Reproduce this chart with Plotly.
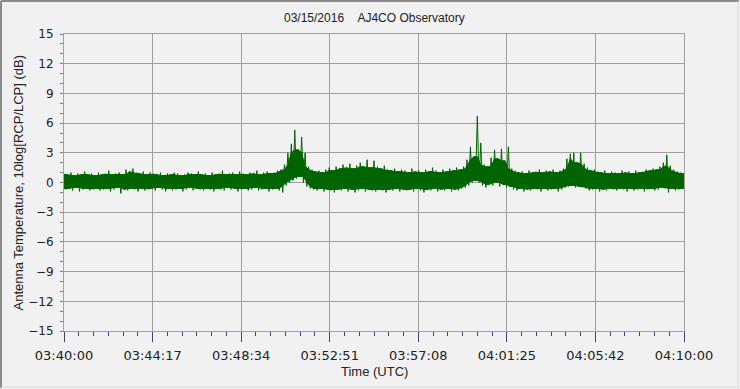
import plotly.graph_objects as go

# Upper envelope of the signal (dB), sampled every 10 s from 03:40:00
hi = [
    0.9, 0.8, 1.0, 0.7, 0.9, 0.8, 1.1, 0.8, 0.9, 0.7,
    1.0, 0.8, 0.9, 1.2, 0.8, 0.9, 1.0, 0.8, 1.3, 1.1,
    1.4, 1.0, 0.9, 1.1, 0.8, 1.0, 0.9, 0.8, 1.0, 0.7,
    0.9, 0.8, 1.0, 0.9, 0.7, 0.8, 1.0, 0.9, 0.8, 1.1,
    0.8, 0.9, 0.7, 1.0, 0.8, 0.9, 1.2, 0.8, 0.9, 1.0,
    0.8, 1.1, 0.9, 0.8, 1.0, 0.9, 1.2, 0.8, 1.0, 1.1,
    0.9, 1.0, 1.2, 1.3, 1.8, 3.0, 3.9, 5.3, 3.3, 4.6,
    3.0, 1.6, 1.3, 1.1, 1.2, 1.0, 1.3, 1.5, 1.2, 1.6,
    1.4, 1.8, 1.5, 1.9, 1.4, 1.7, 2.0, 1.6, 2.3, 1.5,
    2.2, 1.6, 1.4, 1.7, 1.3, 1.2, 1.4, 1.1, 1.3, 1.2,
    1.0, 1.4, 1.1, 1.2, 1.0, 1.3, 1.1, 1.5, 1.2, 1.0,
    1.3, 1.1, 1.4, 1.2, 1.5, 1.3, 1.6, 2.3, 3.6, 2.6,
    6.7, 4.0, 1.8, 1.6, 2.5, 3.3, 2.4, 3.4, 2.2, 3.6,
    1.4, 1.2, 1.0, 1.1, 0.9, 1.2, 1.0, 1.1, 1.3, 1.0,
    1.2, 1.1, 1.3, 1.0, 1.2, 1.4, 2.4, 2.9, 3.0, 2.0,
    3.0, 1.9, 1.5, 1.2, 1.3, 1.1, 1.0, 1.2, 0.9, 1.1,
    1.0, 0.9, 1.2, 1.0, 1.1, 0.9, 1.2, 1.0, 1.1, 1.3,
    1.2, 1.4, 1.3, 1.6, 2.0, 2.8, 1.7, 1.3, 1.1, 1.0,
    0.9,
]

# Lower envelope of the signal (dB), sampled every 10 s from 03:40:05
lo = [
    -0.7, -0.6, -0.8, -0.5, -0.9, -0.7, -0.6, -0.8, -0.7, -0.6,
    -0.8, -0.7, -0.6, -0.9, -0.7, -0.5, -1.1, -0.7, -0.8, -0.6,
    -0.7, -0.9, -0.6, -0.8, -0.7, -0.6, -0.8, -0.5, -0.7, -0.9,
    -0.6, -0.8, -0.7, -0.6, -0.9, -0.7, -0.5, -0.8, -0.6, -0.7,
    -0.8, -0.6, -0.7, -0.9, -0.6, -0.7, -0.8, -0.5, -0.7, -0.6,
    -0.9, -0.7, -0.6, -0.8, -0.7, -0.5, -0.8, -0.7, -0.6, -0.9,
    -0.7, -0.6, -0.8, -1.0, -0.3, 0.0, 0.2, 0.4, 0.6, 0.0,
    -0.4, -0.6, -0.7, -0.8, -0.6, -0.9, -0.7, -0.8, -1.0, -0.7,
    -0.8, -0.6, -0.9, -0.7, -1.0, -0.8, -0.6, -0.9, -0.7, -0.8,
    -0.9, -0.7, -0.8, -1.0, -0.7, -0.8, -0.6, -0.9, -0.7, -0.8,
    -0.7, -0.9, -0.6, -0.8, -1.0, -0.7, -0.8, -0.6, -0.9, -0.7,
    -0.8, -0.6, -0.9, -0.7, -0.8, -0.6, -0.5, -0.3, 0.0, 0.2,
    0.0, -0.3, -0.5, -0.2, -0.3, 0.0, -0.4, -0.2, -0.5, -0.4,
    -0.7, -0.8, -0.6, -0.9, -0.7, -0.8, -0.6, -0.7, -0.9, -0.6,
    -0.8, -0.7, -0.6, -0.9, -0.7, -0.5, -0.4, -0.3, -0.5, -0.4,
    -0.5, -0.6, -0.8, -0.7, -0.6, -0.9, -0.7, -0.8, -0.6, -0.7,
    -0.8, -0.6, -0.7, -0.9, -0.6, -0.8, -0.7, -0.6, -0.9, -0.7,
    -0.6, -0.8, -0.7, -0.5, -0.6, -1.0, -0.6, -0.8, -0.7, -0.6,
]

x_tick_labels = ["03:40:00", "03:44:17", "03:48:34", "03:52:51",
                 "03:57:08", "04:01:25", "04:05:42", "04:10:00"]
y_ticks = [-15, -12, -9, -6, -3, 0, 3, 6, 9, 12, 15]

STEP = 10          # seconds between envelope samples
SPAN = 1800        # seconds shown (03:40:00 .. 04:10:00)

hi_x = [i * STEP for i in range(len(hi))]
lo_x = [i * STEP + STEP / 2 for i in range(len(lo))]

# dense core of the band: the smallest excursion among neighbouring readings
core_hi = [min(hi[max(0, i - 1):i + 2]) for i in range(len(hi))]
core_lo = [max(lo[max(0, i - 1):i + 2]) for i in range(len(lo))]

# zig-zag trace through alternating upper / lower readings (the spikes)
xs, ys = [], []
for i in range(len(lo)):
    xs += [hi_x[i], lo_x[i]]
    ys += [hi[i], lo[i]]
xs.append(hi_x[-1])
ys.append(hi[-1])

n_div = len(x_tick_labels) - 1
x_tickvals = [i * SPAN / n_div for i in range(len(x_tick_labels))]

GREEN = "#006400"
fig = go.Figure()
fig.add_trace(go.Scatter(
    x=hi_x + [SPAN] + lo_x[::-1] + [0],
    y=core_hi + [core_lo[-1]] + core_lo[::-1] + [core_lo[0]],
    mode="lines", fill="toself", fillcolor=GREEN,
    line=dict(color=GREEN, width=1), hoverinfo="skip", showlegend=False,
))
fig.add_trace(go.Scatter(
    x=xs, y=ys, mode="lines",
    line=dict(color=GREEN, width=1),
    hoverinfo="skip", showlegend=False,
))

BG = "#f1f1f1"
GRID = "#a0a0a0"
TICK = "#3a4766"

fig.update_layout(
    width=740, height=389,
    margin=dict(l=64, r=56, t=34, b=58),
    paper_bgcolor=BG, plot_bgcolor=BG,
    font=dict(family="DejaVu Sans", size=12, color="#222"),
    xaxis=dict(
        range=[0, SPAN], tickmode="array", tickvals=x_tickvals, ticktext=x_tick_labels,
        showgrid=True, gridcolor=GRID, gridwidth=1, zeroline=False,
        showline=True, mirror=True, linecolor=GRID, linewidth=1,
        ticks="outside", ticklen=10, tickcolor=TICK, tickwidth=1,
        tickfont=dict(family="DejaVu Sans", size=13, color="#222"),
        ticklabelstandoff=2,
        minor=dict(dtick=SPAN / (n_div * 6), tick0=0, ticks="outside", ticklen=4,
                   tickcolor=TICK, showgrid=False),
    ),
    yaxis=dict(
        range=[-15, 15], tickmode="array", tickvals=y_ticks,
        showgrid=True, gridcolor=GRID, gridwidth=1, zeroline=False,
        showline=True, mirror=True, linecolor=GRID, linewidth=1,
        ticks="outside", ticklen=3, tickcolor="#777", tickwidth=1,
        tickfont=dict(family="DejaVu Sans", size=12, color="#222"),
        ticklabelstandoff=4,
        minor=dict(dtick=1, tick0=0, ticks="outside", ticklen=3,
                   tickcolor="#777", showgrid=False),
    ),
    annotations=[
        dict(text="03/15/2016&nbsp;&nbsp;&nbsp;&nbsp;AJ4CO Observatory",
             xref="paper", yref="paper", x=0.5, y=(331 - 18) / 297,
             xanchor="center", yanchor="middle", showarrow=False,
             font=dict(family="Liberation Sans", size=12, color="#222")),
        dict(text="Time (UTC)", xref="paper", yref="paper", x=0.5, y=(331 - 371) / 297,
             xanchor="center", yanchor="middle", showarrow=False,
             font=dict(family="Liberation Sans", size=13, color="#222")),
        dict(text="Antenna Temperature, 10log[RCP/LCP] (dB)", xref="paper", yref="paper",
             x=(18 - 64) / 620, y=0.5, textangle=-90,
             xanchor="center", yanchor="middle", showarrow=False,
             font=dict(family="Liberation Sans", size=13, color="#222")),
    ],
    shapes=[
        dict(type="line", xref="paper", yref="paper", x0=(1 - 64) / 620, x1=(739 - 64) / 620,
             y0=(331 - 1) / 297, y1=(331 - 1) / 297, line=dict(color="#8a8a8a", width=2)),
        dict(type="line", xref="paper", yref="paper", x0=(1 - 64) / 620, x1=(1 - 64) / 620,
             y0=(331 - 1) / 297, y1=(331 - 388) / 297, line=dict(color="#8a8a8a", width=2)),
        dict(type="line", xref="paper", yref="paper", x0=(738 - 64) / 620, x1=(738 - 64) / 620,
             y0=(331 - 1) / 297, y1=(331 - 388) / 297, line=dict(color="#d8d8d8", width=1)),
        dict(type="line", xref="paper", yref="paper", x0=(1 - 64) / 620, x1=(739 - 64) / 620,
             y0=(331 - 387) / 297, y1=(331 - 387) / 297, line=dict(color="#d8d8d8", width=1)),
    ],
)

fig.write_html("out.html")
